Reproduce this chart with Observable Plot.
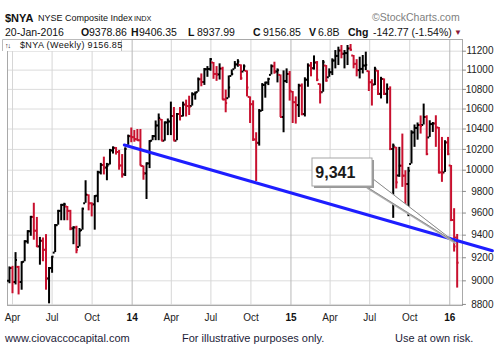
<!DOCTYPE html>
<html><head><meta charset="utf-8">
<script src="https://cdn.jsdelivr.net/npm/d3@7"></script>
<script src="https://cdn.jsdelivr.net/npm/@observablehq/plot@0.6"></script>
<style>
body{margin:0;background:#fff;}
#wrap{position:relative;width:498px;height:356px;overflow:hidden;background:#fff;}
#wrap > svg{position:absolute;left:0;top:0;}
</style></head><body>
<div id="wrap">
<svg id="overlay" width="498" height="356" style="z-index:2;pointer-events:none" font-family="Arial, 'Liberation Sans', sans-serif" fill="#111">
 <text x="5" y="21.7" font-size="11" font-weight="bold">$NYA</text>
 <text x="38" y="20.8" font-size="9">NYSE Composite Index</text>
 <text x="134" y="20.8" font-size="7.3">INDX</text>
 <text x="372" y="21.2" font-size="10.5" fill="#808080">©StockCharts.com</text>
 <g font-size="10.5">
  <text x="5" y="36">20-Jan-2016</text>
  <text x="81" y="36" font-weight="bold">O</text><text x="89" y="36">9378.86</text>
  <text x="131" y="36" font-weight="bold">H</text><text x="139" y="36">9406.35</text>
  <text x="188" y="36" font-weight="bold">L</text><text x="197" y="36">8937.99</text>
  <text x="253" y="36" font-weight="bold">C</text><text x="263" y="36">9156.85</text>
  <text x="309" y="36" font-weight="bold">V</text><text x="318" y="36">6.8B</text>
  <text x="348" y="36" font-weight="bold">Chg</text><text x="373" y="36">-142.77 (-1.54%)</text>
  <text x="454" y="35" font-size="8" fill="#8b1a3a">▼</text>
 </g>
 <rect x="2" y="39.5" width="120" height="11.5" fill="#fff"/>
 <path d="M2.5,51 V39.5 H121.5 V51" stroke="#bbb" fill="none"/>
 <text x="5" y="48" font-size="7" letter-spacing="-1">↑↓</text>
 <text x="20" y="48" font-size="9" letter-spacing="0.35">$NYA (Weekly) 9156.85</text>
 <g font-size="11" fill="#1c1c38">
  <text x="5" y="341.7">www.ciovaccocapital.com</text>
  <text x="182" y="341.7">For illustrative purposes only.</text>
  <text x="395" y="341.7">Use at own risk.</text>
 </g>
</svg>
</div>
<script>
// Weekly OHLC of $NYA, weeks starting Monday 2013-03-25 through 2016-01-18
const weekOpen=[9000,9110,8990,9120,8990,9165,9345,9435,9565,9440,
9300,9350,9270,9020,9110,9245,9490,9620,9675,9660,
9620,9460,9470,9295,9445,9690,9768,9690,9680,9760,
9980,10050,10025,10055,10190,10215,10175,10045,9960,10240,
10330,10320,10300,10290,10040,9970,10065,10285,10330,10435,
10495,10285,10465,10475,10530,10285,10550,10530,10645,10630,
10630,10750,10772,10905,10876,11009,11012,11080,10960,10955,
11016,10697,10710,10939,11009,11060,11055,10985,10992,10723,
10649,10297,10264,10582,10846,10870,10950,11041,10985,10950,
10520,10887,10960,10778,10669,10640,10839,10549,10900,11048,
11020,11080,10856,10771,11048,10925,10978,11101,11150,11207,
11172,11180,11230,11154,11066,11000,11013,11048,10990,10874,
10850,10995,10754,10908,10754,10805,10204,10220,9950,10043,
9948,9869,10059,10366,10410,10440,10440,10520,10317,10449,
10455,10415,9979,9979,10268,10045,9537,9378.86];
const weekHigh=[9120,9125,9245,9125,9165,9350,9440,9570,9690,9560,
9380,9375,9405,9115,9210,9495,9625,9680,9690,9660,
9625,9475,9480,9460,9645,9900,9768,9695,9760,9990,
10065,10125,10065,10200,10225,10218,10190,10150,10215,10340,
10410,10385,10395,10395,10040,10070,10285,10335,10480,10550,
10495,10470,10500,10670,10615,10555,10615,10670,10690,10730,
10765,10772,10918,10960,11016,11037,11122,11080,11037,11066,
11030,10793,10939,11002,11090,11110,11055,11055,10992,10723,
10683,10363,10595,10860,10874,10915,11055,11083,11013,10950,
10992,11013,10985,10778,10723,10853,10856,10920,11066,11080,
11150,11090,10856,11101,11048,11013,11119,11207,11243,11261,
11207,11261,11272,11154,11110,11136,11154,11190,10990,10900,
11030,10995,10925,10908,10856,10826,10252,10220,10220,10350,
9995,10027,10383,10440,10460,10530,10650,10532,10482,10465,
10532,10415,10317,10285,10317,10045,9640,9406.35];
const weekLow=[8975,8890,8965,8880,8920,9165,9320,9390,9355,9290,
9135,9165,8920,8805,9065,9245,9490,9530,9530,9530,
9440,9315,9235,9295,9445,9690,9620,9565,9445,9695,
9955,9955,9900,10050,10155,10145,10000,9925,9940,10240,
10265,10270,10280,10040,9905,9725,10015,10285,10285,10285,
10280,10280,10335,10335,10280,10285,10480,10520,10520,10535,
10630,10690,10772,10827,10841,10925,10988,10904,10883,10897,
10690,10562,10710,10939,11009,11030,10894,10985,10723,10455,
10278,9893,10232,10575,10710,10839,10950,10957,10867,10515,
10363,10860,10680,10455,10449,10515,10532,10520,10822,10930,
11000,10880,10651,10771,10874,10925,10943,11013,11048,11119,
11013,11048,11200,11013,10930,10908,10960,10995,10778,10630,
10839,10737,10702,10737,10651,10188,9552,9823,9932,9838,
9627,9567,10059,10220,10290,10350,10440,10139,10317,10366,
10220,9964,9885,9979,10139,9522,9250,8937.99];
const weekClose=[9110,8990,9180,8990,9160,9345,9435,9565,9440,9300,
9350,9270,9020,9110,9210,9490,9620,9675,9680,9620,
9460,9470,9270,9440,9640,9770,9690,9680,9755,9980,
10050,10025,10040,10190,10215,10175,10045,9960,10205,10330,
10320,10300,10290,10045,9970,10065,10280,10330,10435,10510,
10285,10465,10475,10530,10285,10550,10530,10645,10630,10620,
10750,10765,10905,10876,11009,11012,11115,10960,10955,11016,
10697,10660,10820,10960,11060,11090,10915,11040,10819,10649,
10297,10264,10582,10846,10870,10908,11041,10985,10999,10520,
10887,10960,10790,10669,10640,10839,10549,10900,11048,11020,
11080,10900,10771,11083,10891,10978,11101,11150,11207,11172,
11180,11230,11215,11066,11000,11013,11048,11055,10874,10850,
11013,10754,10908,10754,10805,10204,10236,9885,10043,9948,
9869,9995,10366,10410,10440,10430,10520,10155,10449,10455,
10415,9979,9970,10268,10155,9537,9299.62,9156.85];

const yTicks=[8800,9000,9200,9400,9600,9800,10000,10200,10400,10600,10800,11000,11200];
const xTickDates=["2013-04-01","2013-07-01","2013-10-01","2014-01-01","2014-04-01","2014-07-01","2014-10-01","2015-01-01","2015-04-01","2015-07-01","2015-10-01","2016-01-01"];
const xTickLabels=["Apr","Jul","Oct","14","Apr","Jul","Oct","15","Apr","Jul","Oct","16"];
const trendDates=["2013-12-14","2016-04-08"];
const trendValues=[10243,9261];
const calloutText="9,341";
const calloutBoxDates=["2015-02-19T12:00Z","2015-07-07T10:00Z"];
const calloutBoxValues=[9846,10112];
const calloutWedgeDates=["2015-06-23","2015-07-07T10:00Z","2016-01-11T20:00Z"];
const calloutWedgeValues=[9846,9921,9341];

const DAY=864e5;
const weeks=d3.utcMonday.range(new Date(Date.UTC(2013,2,25)), new Date(Date.UTC(2016,0,19)));
const bars=weeks.map((date,i)=>({date,open:weekOpen[i],high:weekHigh[i],low:weekLow[i],close:weekClose[i],
  color: weekClose[i] >= (i ? weekClose[i-1] : weekOpen[i]) ? "#000000" : "#c8102e"}));
const grid=xTickDates.map((d,i)=>({date:new Date(d+"T00:00Z"),label:xTickLabels[i],year:/^\d/.test(xTickLabels[i])}));
const trend=trendDates.map((d,i)=>({date:new Date(d+"T00:00Z"),value:trendValues[i]}));
const box=[{x1:new Date(calloutBoxDates[0]),x2:new Date(calloutBoxDates[1]),y1:calloutBoxValues[0],y2:calloutBoxValues[1]}];
const wedge=calloutWedgeDates.map((d,i)=>({date:new Date(d.length>10?d:d+"T00:00Z"),value:calloutWedgeValues[i]}));
wedge.push(wedge[0]);
const xDomain=[new Date("2013-03-20T12:14Z"),new Date("2016-01-30T06:00Z")];
const tick=4.4*DAY;

const chart=Plot.plot({
  width:498,height:356,marginLeft:7,marginRight:36,marginTop:39,marginBottom:51,
  style:{background:"transparent",fontFamily:"Arial, 'Liberation Sans', sans-serif"},
  x:{type:"utc",domain:xDomain,axis:null},
  y:{type:"log",domain:[8791,11325.5],axis:null},
  marks:[
    Plot.ruleY(yTicks,{y:d=>d,stroke:"#dcdcdc"}),
    Plot.ruleX(grid,{x:"date",stroke:d=>d.year?"#b8b8b8":"#d6d6d6"}),
    Plot.frame({stroke:"#a9a9a9"}),
    Plot.ruleY(yTicks,{y:d=>d,x1:()=>xDomain[1],x2:()=>new Date(+xDomain[1]+9*DAY),stroke:"#8a8a8a"}),
    Plot.text(yTicks,{y:d=>d,text:d=>String(d),frameAnchor:"right",dx:31,textAnchor:"end",fontSize:10,fill:"#222"}),
    Plot.text(grid.filter(d=>!d.year),{x:"date",text:"label",frameAnchor:"bottom",dy:15,lineAnchor:"bottom",fontSize:10,fill:"#222"}),
    Plot.text(grid.filter(d=>d.year),{x:"date",text:"label",frameAnchor:"bottom",dy:15,lineAnchor:"bottom",fontSize:10,fontWeight:"bold",fill:"#111"}),
    Plot.ruleX(bars,{x:"date",y1:"low",y2:"high",stroke:"color",strokeWidth:2}),
    Plot.ruleY(bars,{y:"open",x1:d=>new Date(+d.date-tick),x2:"date",stroke:"color",strokeWidth:2}),
    Plot.ruleY(bars,{y:"close",x1:"date",x2:d=>new Date(+d.date+tick),stroke:"color",strokeWidth:2}),
    Plot.line(trend,{x:"date",y:"value",stroke:"#1e1eff",strokeWidth:3}),
    Plot.line(wedge,{x:"date",y:"value",fill:"#b0b0b0",stroke:"#b0b0b0",dx:1,dy:1.5}),
    Plot.line(wedge,{x:"date",y:"value",fill:"#fff",stroke:"#8c8c8c",strokeWidth:1}),
    Plot.rect(box,{x1:"x1",x2:"x2",y1:"y1",y2:"y2",fill:"#999",dx:2,dy:2}),
    Plot.rect(box,{x1:"x1",x2:"x2",y1:"y1",y2:"y2",fill:"#fff",stroke:"#a5a5a5"}),
    Plot.text([calloutText],{x:()=>new Date("2015-02-26T00:00Z"),y:()=>9975,text:d=>d,textAnchor:"start",lineAnchor:"middle",fontSize:16,fontWeight:"bold",fill:"#1a1a1a"})
  ]
});
chart.style.zIndex="1";
document.getElementById("wrap").prepend(chart);
</script>
</body></html>
